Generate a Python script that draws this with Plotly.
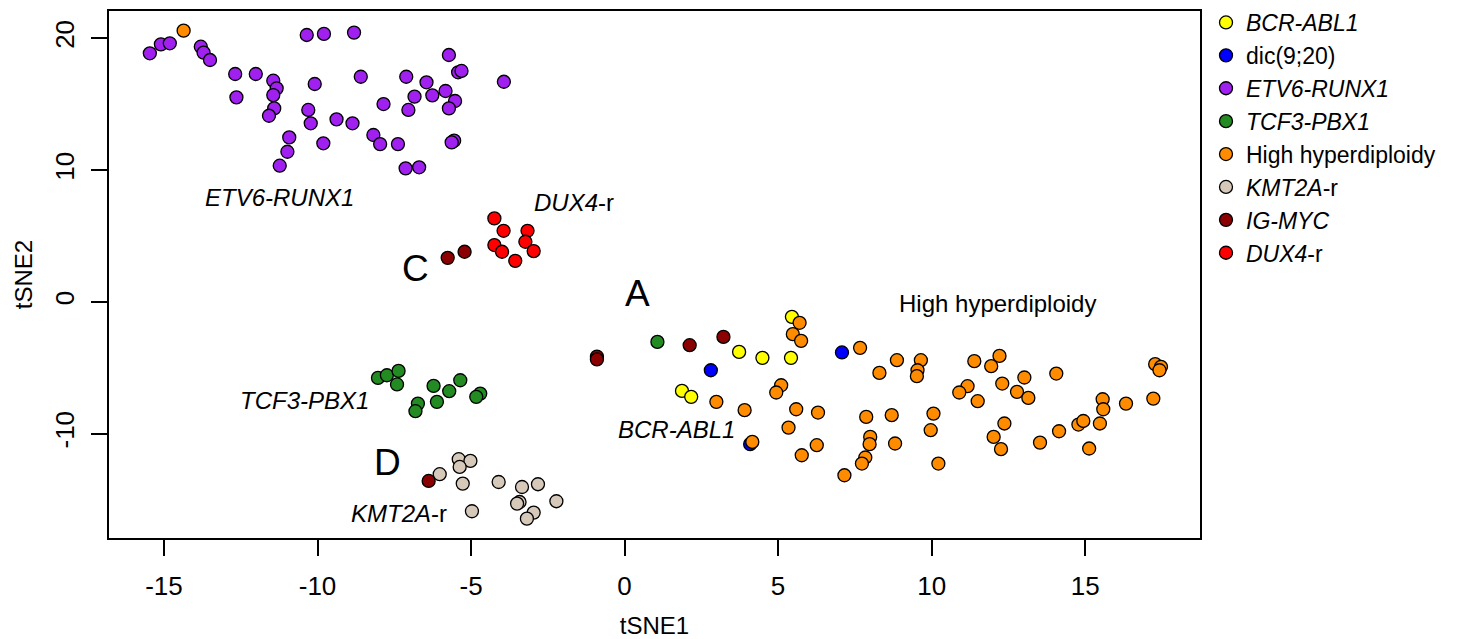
import plotly.graph_objects as go

# ---------------- data ----------------
groups = ["<i>BCR-ABL1</i>", "dic(9;20)", "<i>ETV6-RUNX1</i>", "<i>TCF3-PBX1</i>",
          "High hyperdiploidy", "<i>KMT2A</i>-r", "<i>IG-MYC</i>", "<i>DUX4</i>-r"]
colors = ["#FFFF00", "#0000FF", "#A020F0", "#228B22", "#FF8C00", "#D6C9B9", "#8B0000", "#FF0000"]

bcr_x = [3.73, 4.49, 5.42, 5.45, 1.87, 2.17]
bcr_y = [-3.80, -4.25, -4.25, -1.14, -6.76, -7.21]

dic_x = [2.81, 7.08, 4.09]
dic_y = [-5.19, -3.84, -10.80]

etv_x = [-15.46, -15.10, -14.81, -13.80, -13.71, -13.50, -12.68, -12.01, -12.64, -11.44,
         -11.33, -11.44, -11.41, -11.58, -10.92, -10.98, -11.23, -10.35, -9.79, -8.81,
         -10.09, -10.30, -10.22, -9.38, -8.86, -9.81, -8.59, -7.85, -8.18, -7.96,
         -7.38, -7.13, -6.69, -7.11, -7.04, -6.84, -6.45, -6.26, -5.83, -5.72,
         -5.52, -5.72, -5.42, -5.31, -5.55, -5.63, -3.93]
etv_y = [18.86, 19.54, 19.62, 19.36, 18.91, 18.35, 17.29, 17.29, 15.52, 16.78,
         16.20, 15.69, 14.68, 14.12, 12.48, 11.39, 10.33, 20.25, 20.33, 20.43,
         16.53, 14.56, 13.55, 13.85, 13.55, 12.03, 17.08, 15.01, 12.66, 11.97,
         11.97, 10.13, 10.21, 17.08, 14.56, 15.57, 16.66, 15.67, 16.00, 18.73,
         15.24, 14.68, 17.42, 17.52, 12.23, 12.10, 16.70]

tcf_x = [-8.03, -7.74, -7.36, -7.41, -6.22, -5.35, -5.71, -6.11, -6.73, -6.81, -4.70, -4.83, 1.07]
tcf_y = [-5.77, -5.57, -5.24, -6.27, -6.38, -5.95, -6.78, -7.59, -7.72, -8.30, -6.96, -7.21, -3.04]

hh_x = [-14.36, 5.70, 5.48, 5.75, 7.67, 8.87, 8.30, 2.99, 3.91, 5.10, 4.94, 5.59, 6.30, 5.34,
        4.16, 5.77, 6.26, 7.87, 8.70, 8.00, 7.98, 7.84, 7.73, 7.16, 8.81,
        9.65, 9.54, 9.52, 11.39, 11.94, 12.21, 11.17, 10.90, 11.50, 12.30, 13.02, 12.78,
        13.15, 14.06, 10.06, 9.97, 10.22, 12.37, 12.02, 12.26, 13.53, 14.15, 14.78, 14.94,
        15.13, 15.48, 15.57, 15.59, 16.33, 17.22, 17.28, 17.47, 17.42]
hh_y = [20.58, -1.59, -2.45, -2.96, -3.49, -4.43, -5.39, -7.59, -8.22, -6.33, -6.88, -8.15, -8.40, -9.54,
        -10.63, -11.64, -10.88, -8.73, -8.60, -10.25, -10.80, -11.81, -12.27, -13.16, -10.75,
        -4.43, -5.19, -5.64, -4.50, -4.88, -4.10, -6.40, -6.88, -7.54, -6.20, -5.74, -6.83,
        -7.29, -5.44, -8.48, -9.74, -12.27, -9.23, -10.25, -11.18, -10.68, -9.82, -9.31, -9.04,
        -11.13, -9.23, -7.39, -8.15, -7.72, -7.34, -4.73, -4.93, -5.19]

kmt_x = [-6.02, -5.40, -5.02, -5.37, -5.27, -4.10, -3.34, -2.82, -3.42, -3.50, -2.22, -2.96, -3.18, -4.97]
kmt_y = [-13.08, -11.94, -12.07, -12.53, -13.79, -13.67, -14.05, -13.84, -15.19, -15.31, -15.13, -15.99, -16.45, -15.89]

igm_x = [-5.76, -5.21, -0.90, -0.90, 2.12, 3.22, -6.38]
igm_y = [3.34, 3.80, -4.15, -4.37, -3.29, -2.66, -13.59]

dux_x = [-4.24, -3.94, -3.16, -3.23, -4.24, -3.99, -3.56, -2.96]
dux_y = [6.33, 5.39, 5.39, 4.56, 4.31, 3.80, 3.11, 3.85]

xs = [bcr_x, dic_x, etv_x, tcf_x, hh_x, kmt_x, igm_x, dux_x]
ys = [bcr_y, dic_y, etv_y, tcf_y, hh_y, kmt_y, igm_y, dux_y]

# cluster labels
label_text = ["<i>ETV6-RUNX1</i>", "<i>DUX4</i>-r", "C", "A", "High hyperdiploidy",
              "<i>TCF3-PBX1</i>", "<i>BCR-ABL1</i>", "D", "<i>KMT2A</i>-r"]
label_x = [-11.25, -1.65, -6.82, 0.41, 12.16, -10.43, 1.68, -7.71, -7.33]
label_y = [7.90, 7.52, 2.50, 0.62, -0.15, -7.52, -9.65, -12.20, -16.03]
label_big = [False, False, True, True, False, False, False, True, False]

x_ticks = [-15, -10, -5, 0, 5, 10, 15]
x_ticklabels = ["-15", "-10", "-5", "0", "5", "10", "15"]
y_ticks = [-10, 0, 10, 20]
y_ticklabels = ["-10", "0", "10", "20"]

FONT = "Liberation Sans, Arial, Helvetica, sans-serif"

fig = go.Figure()
for name, col, x, y in zip(groups, colors, xs, ys):
    fig.add_trace(go.Scatter(
        x=x, y=y, mode="markers", name=name,
        marker=dict(size=13, color=col, line=dict(color="black", width=1.3)),
    ))

for t, x, y, big in zip(label_text, label_x, label_y, label_big):
    fig.add_annotation(x=x, y=y, text=t, showarrow=False, xanchor="center", yanchor="middle",
                       font=dict(size=37 if big else 24, color="black", family=FONT))

axis_common = dict(showline=True, linecolor="black", linewidth=1.5, mirror=True,
                   ticks="outside", ticklen=16, tickwidth=1.5, tickcolor="black",
                   showgrid=False, zeroline=False,
                   tickfont=dict(size=26, color="black", family=FONT))

fig.update_xaxes(range=[-16.79, 18.74], tickvals=x_ticks, ticktext=x_ticklabels,
                 ticklabelstandoff=8,
                 title=dict(text="tSNE1", font=dict(size=24, color="black", family=FONT), standoff=20),
                 **axis_common)
fig.update_yaxes(range=[-17.92, 22.07], tickvals=y_ticks, ticktext=y_ticklabels,
                 tickangle=-90, ticklabelstandoff=7,
                 title=dict(text="tSNE2", font=dict(size=24, color="black", family=FONT), standoff=10),
                 **axis_common)

# page body has an 8px margin; figure is sized/offset to compensate
fig.update_layout(
    width=1458, height=631,
    margin=dict(l=101, r=266, t=3, b=101, autoexpand=False),
    plot_bgcolor="white", paper_bgcolor="white",
    font=dict(family=FONT, color="black"),
    legend=dict(x=1.0055, xanchor="left", y=1.019, yanchor="top",
                font=dict(size=23, color="black", family=FONT),
                bgcolor="rgba(0,0,0,0)", borderwidth=0, itemclick=False),
    showlegend=True,
)

fig.write_html("out.html")
